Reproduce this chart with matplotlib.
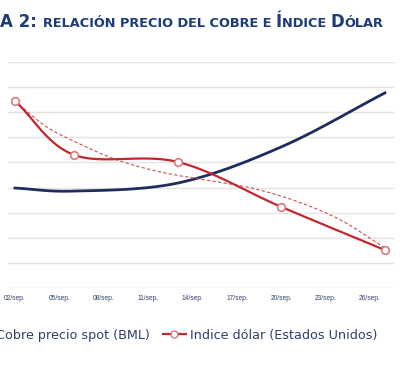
import numpy as np
import matplotlib
matplotlib.use("Agg")
import matplotlib.pyplot as plt
from matplotlib.lines import Line2D

# data (weekly points, day of September); y in grid units (left tick labels are cut off)
days = [2, 6, 13, 20, 27]
cobre = [3.98, 3.86, 4.18, 5.62, 7.77]
dolar = [7.45, 5.30, 5.02, 3.23, 1.51]
# dashed trendline of the dollar index
trend_days = [2, 4, 6, 9, 12, 15, 18, 21, 24, 27]
trend_vals = [7.44, 6.47, 5.84, 5.08, 4.60, 4.29, 3.98, 3.46, 2.71, 1.59]
tick_days = [2, 5, 8, 11, 14, 17, 20, 23, 26]
tick_labels = ["02/sep.", "05/sep.", "08/sep.", "11/sep.", "14/sep.", "17/sep.", "20/sep.", "23/sep.", "26/sep."]
title_parts = [("A 2: ", "big"), ("RELACIÓN PRECIO DEL COBRE E ", "small"), ("Í", "big"),
               ("NDICE ", "small"), ("D", "big"), ("ÓLAR", "small")]
labels = ["Cobre precio spot (BML)", "Indice dólar (Estados Unidos)"]

navy = "#1f2c5c"
red = "#c3262c"
W, H = 400, 369


def smooth(x, y, n=30):
    # catmull-rom style smoothing like excel "smoothed line"
    x = np.asarray(x, float)
    y = np.asarray(y, float)
    px = np.concatenate([[2 * x[0] - x[1]], x, [2 * x[-1] - x[-2]]])
    py = np.concatenate([[2 * y[0] - y[1]], y, [2 * y[-1] - y[-2]]])
    xs, ys = [], []
    t = np.linspace(0, 1, n)
    for i in range(1, len(px) - 2):
        for p, out in ((px, xs), (py, ys)):
            p0, p1, p2, p3 = p[i - 1], p[i], p[i + 1], p[i + 2]
            out.extend(0.5 * ((2 * p1) + (-p0 + p2) * t + (2 * p0 - 5 * p1 + 4 * p2 - p3) * t ** 2
                              + (-p0 + 3 * p1 - 3 * p2 + p3) * t ** 3))
    return np.array(xs), np.array(ys)


fig = plt.figure(figsize=(W / 100, H / 100), dpi=100)
ax = fig.add_axes([8 / W, 1 - 288 / H, 387 / W, 226 / H])

sx, sy = smooth(days, cobre)
ax.plot(sx, sy, color=navy, lw=2)
sx, sy = smooth(trend_days, trend_vals)
ax.plot(sx, sy, color="#c85050", lw=0.8, ls=(0, (3, 2)))
sx, sy = smooth(days, dolar)
ax.plot(sx, sy, color=red, lw=1.6)
ax.plot(days, dolar, "o", ms=5.5, mfc="white", mec="#d77a7e", mew=1.2, zorder=4)

ax.set_xlim(1.53, 27.68)
ax.set_ylim(0, 9)
ax.set_yticks(range(10))
ax.set_yticklabels([])
ax.set_xticks(tick_days)
ax.set_xticklabels(tick_labels, fontsize=4.8, color="#353f68", family="Liberation Sans")
ax.tick_params(length=0, pad=5)
ax.grid(axis="y", color="#e4e4e4", lw=1)
for s in ax.spines.values():
    s.set_visible(False)

# title in small caps
fig.canvas.draw()
r = fig.canvas.get_renderer()
x = 0
for txt, kind in title_parts:
    t = fig.text(x / W, 1 - 27 / H, txt, fontsize=12 if kind == "big" else 9.3,
                 weight="bold", color="#1d3b78", va="baseline")
    x += t.get_window_extent(r).width

handles = [Line2D([], [], color=navy, lw=2),
           Line2D([], [], color=red, lw=1.6, marker="o", ms=5, mfc="white", mec="#d77a7e")]
fig.legend(handles, labels, loc="center left", bbox_to_anchor=(-0.092, 1 - 335 / H), ncol=2,
           frameon=False, fontsize=9.2, labelcolor="#2f3d6b", borderpad=0, handlelength=1.8,
           handletextpad=0.3, columnspacing=1.0)

fig.savefig("out.png", dpi=100, facecolor="white")
